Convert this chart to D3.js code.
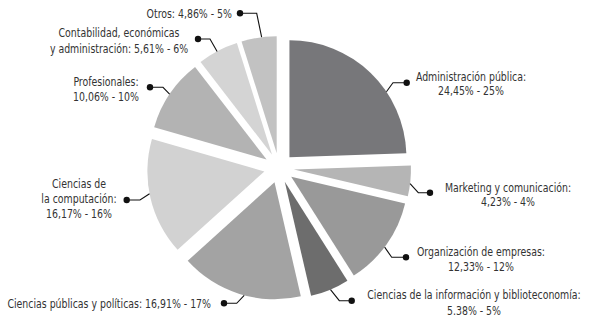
<!DOCTYPE html>
<html lang="es">
<head>
  <meta charset="UTF-8">
  <title>pie</title>
  <script src="https://cdn.jsdelivr.net/npm/d3@7"></script>
  <style>
    body { margin: 0; background: #fff; }
    text { font-family: "DejaVu Sans Condensed", "Liberation Sans Narrow", sans-serif; font-stretch: condensed; fill: #333; }
  </style>
</head>
<body>
<script>
  // data, clockwise from 12 o'clock
  const categories = ['Administración pública', 'Marketing y comunicación', 'Organización de empresas',
    'Ciencias de la información y biblioteconomía', 'Ciencias públicas y políticas', 'Ciencias de la computación',
    'Profesionales', 'Contabilidad, económicas y administración', 'Otros'];
  const percents = [24.45, 4.23, 12.33, 5.38, 16.91, 16.17, 10.06, 5.61, 4.86];
  const percentLabels = ['24,45%', '4,23%', '12,33%', '5.38%', '16,91%', '16,17%', '10,06%', '5,61%', '4,86%'];
  const roundedLabels = ['25%', '4%', '12%', '5%', '17%', '16%', '10%', '6%', '5%'];
  // how each label is broken into lines
  const labelLines = [
    ['Administración pública:', '{p} - {r}'],
    ['Marketing y comunicación:', '{p} - {r}'],
    ['Organización de empresas:', '{p} - {r}'],
    ['Ciencias de la información y biblioteconomía:', '{p} - {r}'],
    ['Ciencias públicas y políticas: {p} - {r}'],
    ['Ciencias de', 'la computación:', '{p} - {r}'],
    ['Profesionales:', '{p} - {r}'],
    ['Contabilidad, económicas', 'y administración: {p} - {r}'],
    ['Otros: {p} - {r}']
  ];

  const colors = ['#77777a', '#b5b5b5', '#999999', '#6d6d6d', '#a3a3a3', '#d2d2d2', '#b3b3b3', '#d4d4d4', '#c2c2c2'];

  // label layout: leader angle on the arc (deg), elbow + dot, text anchor / lines
  const layout = [
    { a: 56,  elbow: [393, 82.7],  dot: [406.7, 82.7],  anchor: 'middle', x: 471, y: [77, 91] },
    { a: 97,  elbow: [418.3, 192.7], dot: [430, 192.7], anchor: 'middle', x: 508, y: [187.7, 202.3] },
    { a: 127, elbow: [391.7, 257.3], dot: [406, 257.3], anchor: 'middle', x: 481, y: [251.7, 266.7] },
    { a: 157, elbow: [339.3, 300.7], dot: [351.7, 300.7], anchor: 'middle', x: 474, y: [295, 310.7] },
    { a: 195, elbow: [236.7, 303.3], dot: [224, 303.3], anchor: 'end', x: 211, y: [304] },
    { a: 259, elbow: [140, 200],   dot: [126.7, 200],   anchor: 'middle', x: 79, y: [184, 199.3, 214] },
    { a: 304, elbow: [163, 87.3],  dot: [150, 87.3],    anchor: 'middle', x: 106, y: [81.5, 96.5] },
    { a: 332, elbow: [210, 39],    dot: [198, 39],      anchor: 'middle', x: 119, y: [33.3, 49.3] },
    { a: 352.6, elbow: [256.7, 13.3], dot: [240, 13.3], anchor: 'end', x: 232, y: [13.5] }
  ];

  const width = 589, height = 324;
  const cx = 279, cy = 168;
  const radius = 117;
  const explode = 15;
  const squeeze = 0.9; // narrow the text like the condensed face of the original

  const svg = d3.select('body').append('svg')
    .attr('width', width).attr('height', height)
    .attr('viewBox', [0, 0, width, height]);

  const pie = d3.pie().sort(null).value(d => d)(percents);
  const arc = d3.arc().innerRadius(0).outerRadius(radius);

  const offset = d => {
    const m = (d.startAngle + d.endAngle) / 2;
    return [explode * Math.sin(m), -explode * Math.cos(m)];
  };

  svg.append('g')
    .attr('transform', `translate(${cx},${cy})`)
    .selectAll('path')
    .data(pie)
    .join('path')
    .attr('transform', d => `translate(${offset(d)})`)
    .attr('fill', (d, i) => colors[i])
    .attr('d', arc);

  // leaders + labels
  const lead = svg.append('g');
  pie.forEach((d, i) => {
    const L = layout[i];
    const o = offset(d);
    const a = L.a * Math.PI / 180;
    const sx = cx + o[0] + radius * Math.sin(a);
    const sy = cy + o[1] - radius * Math.cos(a);
    lead.append('polyline')
      .attr('points', [[sx, sy], L.elbow, L.dot].map(p => p.join(',')).join(' '))
      .attr('fill', 'none').attr('stroke', '#111').attr('stroke-width', 1.1);
    lead.append('circle').attr('cx', L.dot[0]).attr('cy', L.dot[1]).attr('r', 3.2).attr('fill', '#111');

    const t = lead.append('text')
      .attr('transform', `translate(${L.x},0) scale(${squeeze},1)`)
      .attr('text-anchor', L.anchor).style('font-size', '11.6px');
    labelLines[i].forEach((s, k) => {
      t.append('tspan')
        .attr('x', 0).attr('y', L.y[k]).attr('dy', '0.35em')
        .text(s.replace('{p}', percentLabels[i]).replace('{r}', roundedLabels[i]));
    });
  });
</script>
</body>
</html>
